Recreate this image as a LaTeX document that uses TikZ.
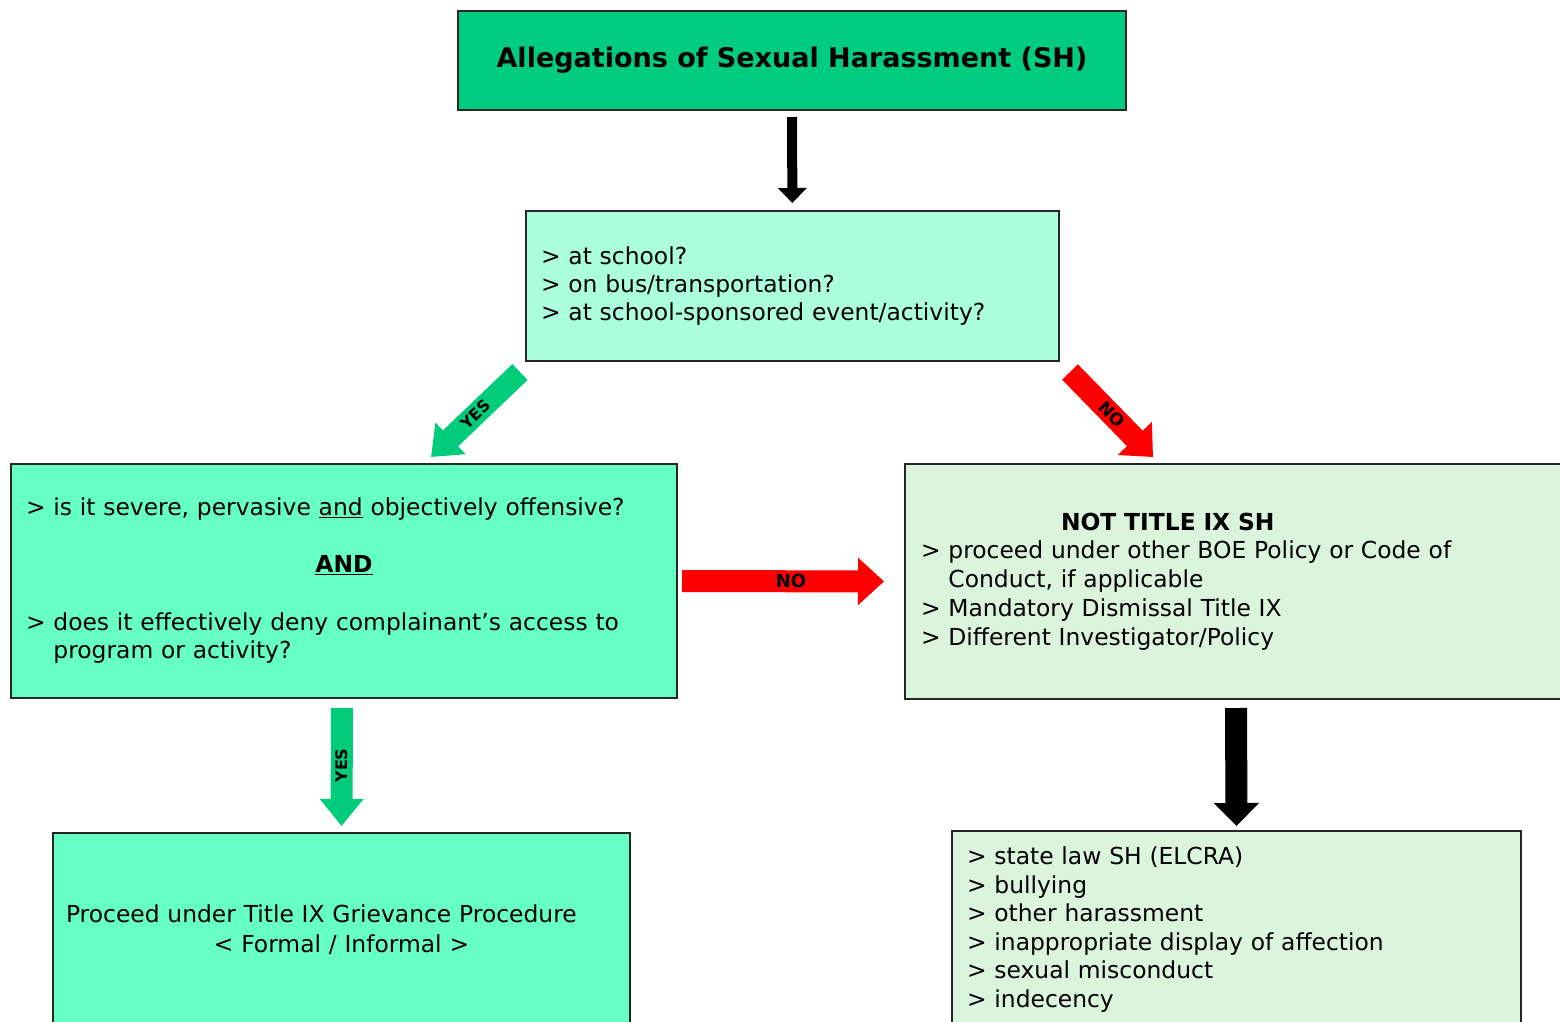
\documentclass[tikz,border=0pt]{standalone}
\usepackage{fontspec}
\setmainfont{DejaVu Sans}
\usepackage{tikz}
\usetikzlibrary{arrows.meta}
\definecolor{titlegreen}{RGB}{0,204,128}
\definecolor{palemint}{RGB}{172,255,222}
\definecolor{aquamint}{RGB}{102,255,196}
\definecolor{palegreen}{RGB}{218,245,219}
\definecolor{yesgreen}{RGB}{0,204,122}
\definecolor{nored}{RGB}{255,0,0}

\begin{document}
\begin{tikzpicture}[x=1pt, y=-1pt,
	box/.style={draw=black!85, line width=2pt, anchor=north west, align=left,
		font=\fontsize{23.4}{28}\selectfont},
	yesarrow/.style={draw=yesgreen, line width=22pt, -{Triangle[width=42pt, length=27pt]}},
	noarrow/.style={draw=nored, line width=22pt, -{Triangle[width=46pt, length=26pt]}},
	downarrow/.style={draw=black, line width=22pt, -{Triangle[width=44pt, length=23pt]}},
	tag/.style={font=\fontsize{16}{16}\selectfont\bfseries, text=black}]
	\useasboundingbox (0,0) rectangle (1560,1021);
	\clip (0,0) rectangle (1560,1021);
	
	% Top box
	\node[box, fill=titlegreen, align=center, minimum width=668pt, minimum height=99pt,
		font=\fontsize{27}{30}\selectfont\bfseries] (title) at (457,10)
		{Allegations of Sexual Harassment (SH)};
	
	% Where did it happen
	\node[box, fill=palemint, text width=503pt, inner xsep=15pt, minimum width=533pt,
		minimum height=150pt] (where) at (525,210)
		{> at school?\\
		> on bus/transportation?\\
		> at school-sponsored event/activity?};
	
	% Title IX test
	\node[box, fill=aquamint, text width=636pt, inner xsep=15pt, minimum width=666pt,
		minimum height=234pt] (severe) at (10,463)
		{> is it severe, pervasive \underline{and} objectively offensive?\\[29pt]
		\makebox[636pt]{\textbf{\underline{AND}}}\\[30pt]
		> does it effectively deny complainant's access to\\
		\phantom{> }program or activity?};
	
	\node[box, fill=palegreen, text width=630pt, inner xsep=16pt, minimum width=662pt,
		minimum height=235pt, font=\fontsize{23.4}{28.8}\selectfont] (nottitle) at (904,463)
		{\hspace*{140pt}\textbf{NOT TITLE IX SH}\\
		> proceed under other BOE Policy or Code of\\
		\phantom{> }Conduct, if applicable\\
		> Mandatory Dismissal Title IX\\
		> Different Investigator/Policy};
	
	% Outcomes
	\node[box, fill=aquamint, text width=551pt, inner xsep=13pt, minimum width=577pt,
		minimum height=194pt, font=\fontsize{23.4}{30}\selectfont] (grievance) at (52,832)
		{Proceed under Title IX Grievance Procedure\\
		\makebox[551pt]{< Formal / Informal >}};
	
	\node[box, fill=palegreen, text width=539pt, inner xsep=15pt, minimum width=569pt,
		minimum height=197pt, font=\fontsize{23.4}{28.6}\selectfont] (other) at (951,830)
		{> state law SH (ELCRA)\\
		> bullying\\
		> other harassment\\
		> inappropriate display of affection\\
		> sexual misconduct\\
		> indecency};
	
	% Arrows between the boxes
	\draw[downarrow, line width=10pt, -{Triangle[width=28pt, length=15pt]},
		shorten <=6pt, shorten >=7pt] (title) -- (where);
	\draw[yesarrow] ([shift={(-5,10)}]where.south west) -- ([shift={(87,-6)}]severe.north)
		node[midway, sloped, tag] {YES};
	\draw[noarrow] ([shift={(10,10)}]where.south east) -- ([shift={(249,-6)}]nottitle.north west)
		node[midway, sloped, tag, font=\fontsize{17}{17}\selectfont\bfseries] {NO};
	\draw[noarrow, shorten <=4pt, shorten >=20pt] (severe.east) -- (nottitle.west)
		node[midway, tag, font=\fontsize{18}{18}\selectfont\bfseries] {NO};
	\draw[yesarrow, shorten <=9pt, shorten >=6pt] ([xshift=-2pt]severe.south) -- (grievance.north)
		node[midway, rotate=90, tag] {YES};
	\draw[downarrow, shorten <=8pt, shorten >=4pt] (nottitle.south) -- (other.north);
\end{tikzpicture}
\end{document}
